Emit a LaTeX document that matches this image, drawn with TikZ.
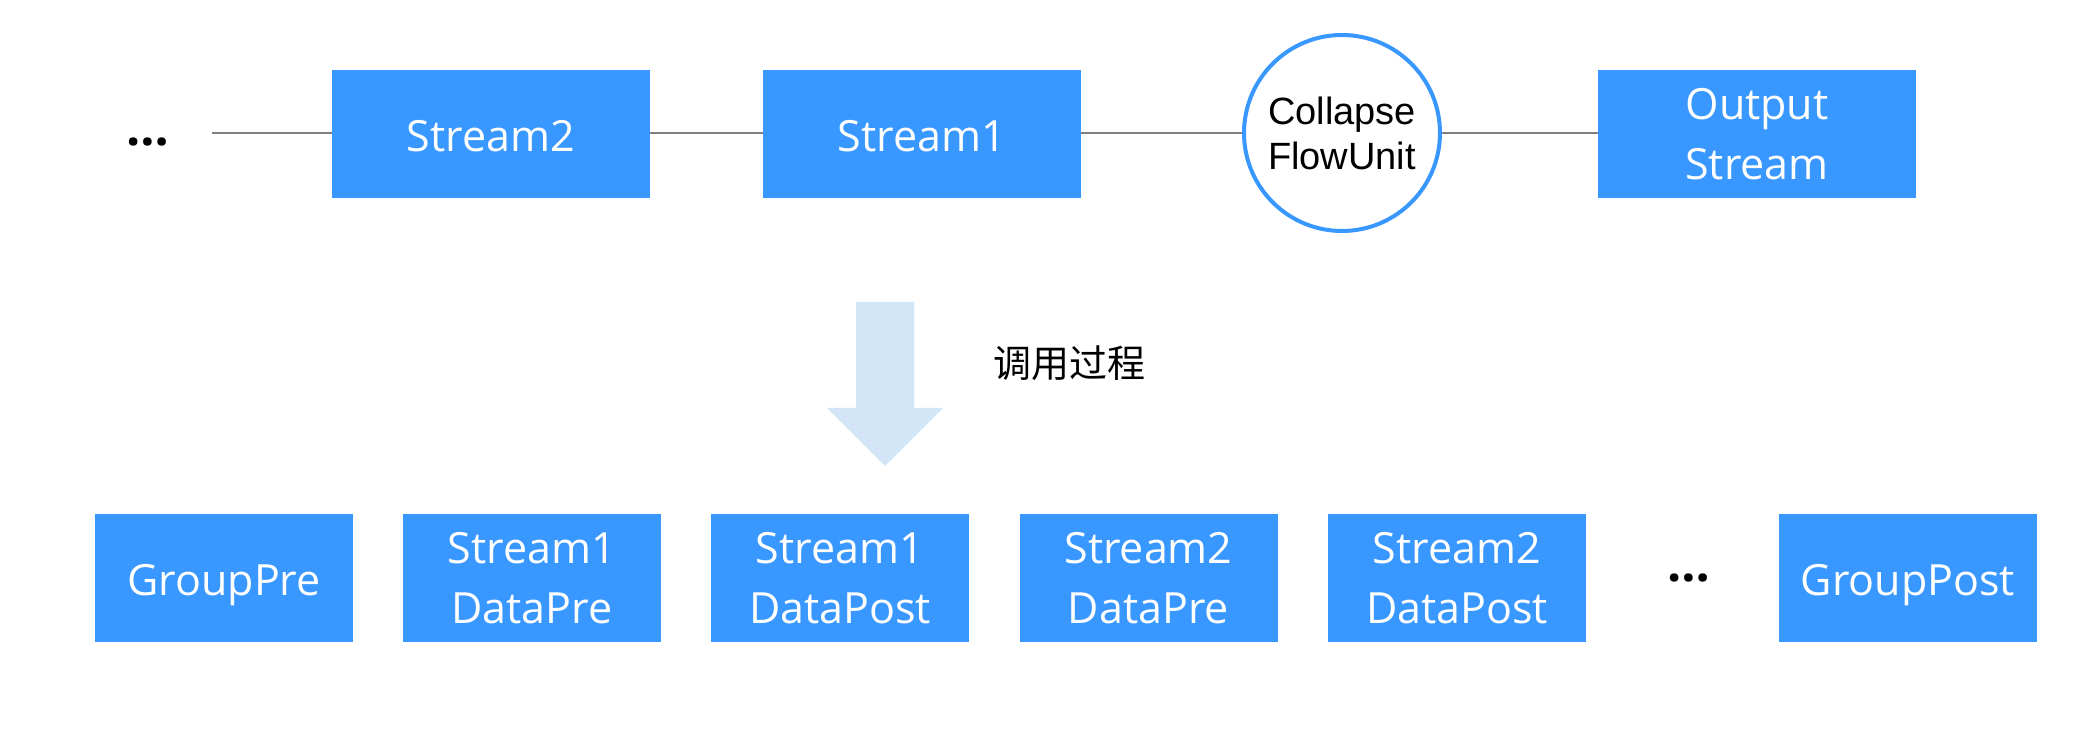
\documentclass[tikz,border=0pt]{standalone}
\usepackage{fontspec}
\setmainfont{Open Sans}
\newfontfamily\helv{Liberation Sans}
\newfontfamily\cjk{Noto Sans CJK SC}
\definecolor{boxblue}{RGB}{56,152,255}
\definecolor{arrowblue}{RGB}{210,230,248}
\definecolor{linegray}{RGB}{128,128,128}
\begin{document}
\begin{tikzpicture}[x=0.5pt,y=-0.5pt,
  topbox/.style={fill=boxblue,draw=none,text=white,minimum width=159pt,minimum height=64pt,
    align=center,inner sep=0pt,font=\fontsize{21.5}{30}\selectfont},
  botbox/.style={fill=boxblue,draw=none,text=white,minimum width=129pt,minimum height=64pt,
    align=center,inner sep=0pt,font=\fontsize{21.5}{30}\selectfont},
  oneline/.style={text height=18pt,text depth=0pt},
  unit/.style={circle,draw=boxblue,line width=2pt,fill=white,minimum size=98pt,inner sep=0pt,
    align=center,font=\helv\fontsize{19}{22.5}\selectfont},
  link/.style={draw=linegray,line width=1pt},
  dots/.style={font=\fontsize{25}{26}\selectfont\bfseries,inner sep=0pt}]
\useasboundingbox (0,0) rectangle (2093,747);
% top row
\node[dots] (d1) at (148,142) {…};
\coordinate (lstart) at (212,133);
\node[topbox,oneline] (s2) at (491,134) {Stream2};
\node[topbox,oneline] (s1) at (922,134) {Stream1};
\node[unit] (cf) at (1342,133) {Collapse\\FlowUnit};
\node[topbox] (out) at (1757,134) {Output\\Stream};
\draw[link] (lstart) -- (s2.west |- lstart);
\draw[link] (s2.east |- cf) -- (s1.west |- cf);
\draw[link] (s1.east |- cf) -- (cf.west);
\draw[link] (cf.east) -- (out.west |- cf);
% arrow
\fill[arrowblue] (856,302) -- (914,302) -- (914,408) -- (943,408) -- (885,466) -- (827,408) -- (856,408) -- cycle;
\node[font=\cjk\fontsize{19}{22}\selectfont,anchor=west,inner sep=0pt] (lbl) at (993,363) {调用过程};
% bottom row
\node[botbox,oneline] (gpre) at (224,578) {GroupPre};
\node[botbox] (s1pre) at (532,578) {Stream1\\\smash{DataPre}};
\node[botbox] (s1post) at (840,578) {Stream1\\\smash{DataPost}};
\node[botbox] (s2pre) at (1148.5,578) {Stream2\\\smash{DataPre}};
\node[botbox] (s2post) at (1457,578) {Stream2\\\smash{DataPost}};
\node[dots] (d2) at (1689,578) {…};
\node[botbox,oneline] (gpost) at (1908,578) {GroupPost};
\end{tikzpicture}
\end{document}
